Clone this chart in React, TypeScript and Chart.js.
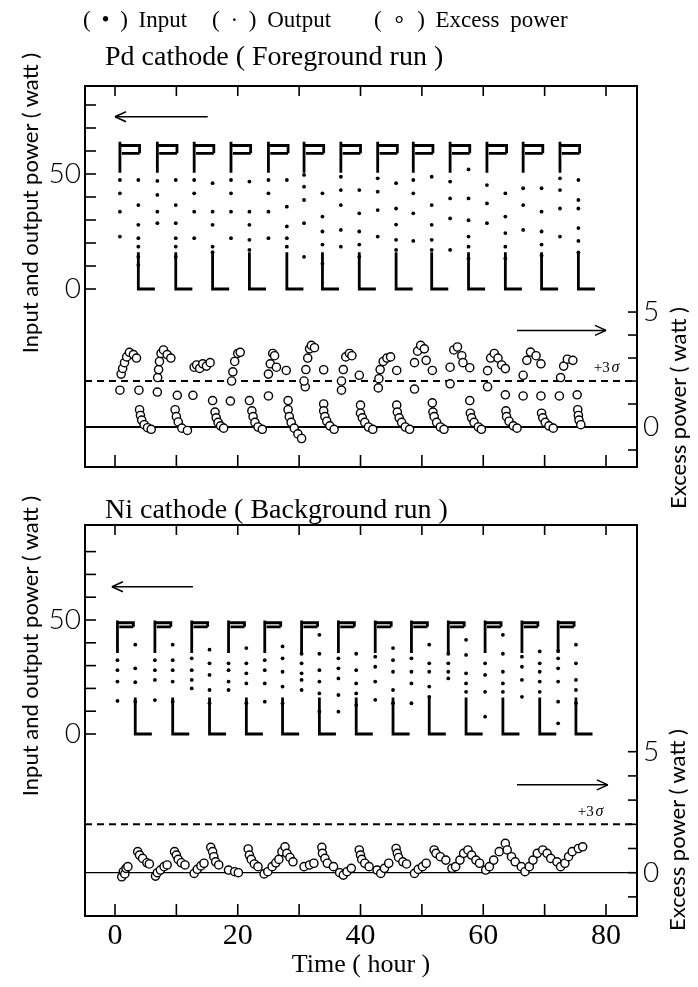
import React, { useEffect, useRef } from "react";
import { Chart, registerables } from "chart.js";

Chart.register(...registerables);

const SERIF = '"Liberation Serif", "Times New Roman", serif';
const SANS = 'Lato, "Open Sans", "DejaVu Sans", sans-serif';

// ---------------- shared axes ----------------
const timeRange = [-4.888, 85.05]; // hours
const timeTicks = [0, 10, 20, 30, 40, 50, 60, 70, 80];
const timeLabels = [0, 20, 40, 60, 80];
const powerTicks = [0, 10, 20, 30, 40, 50, 60, 70, 80];
const powerLabels = [0, 50];
const excessTicks = [-1, 0, 1, 2, 3, 4, 5];
const excessLabels = [0, 5];

// ---------------- Pd cathode (foreground run) ----------------
const pdPowerRange = [-77.39, 88.26];
const pdExcessRange = [-1.739, 14.83];
const pdCycleStart = [0.8, 6.9, 12.9, 18.9, 25.0, 30.8, 36.8, 42.8, 48.6, 54.6, 60.6, 66.5, 72.5];
const pdTiming = [3.2, 3.0, 5.7]; // hold end, output drop, rest end (hours after start)
const pdInputStart = [64, 50.5]; // W
const pdHold = [62.4, 59.0]; // input, output (W)
const pdOutputTail = [16, 0]; // W
const pdInputSteps = [
  [47.4, 41.6, 33.6, 22.8],
  [47.0, 40.9, 33.6, 28.6],
  [47.4, 41.6, 33.6, 22.1],
  [47.4, 41.6, 33.6, 22.1],
  [47.4, 41.6, 33.6, 22.1],
  [49.6, 44.5, 38.7, 28.6, 14.0],
  [48.8, 43.0, 36.5, 25.7, 18.4],
  [48.1, 42.3, 34.3, 22.8],
  [47.4, 41.6, 32.9, 20.9],
  [46.7, 39.4, 30.7, 17.0],
  [45.2, 37.2, 28.6],
  [43.8, 36.5, 25.7],
  [48.1, 43.0, 35.0, 22.8],
];
const pdOutputSteps = [
  [47.4, 36.5, 27.9, 22.1, 18.4, 14.0, 10.4],
  [47.4, 36.5, 28.6, 22.1, 18.4, 14.0],
  [46.0, 33.6, 27.9, 18.4, 16.0],
  [46.7, 33.6, 27.9, 21.4, 17.0],
  [47.4, 35.8, 27.2, 22.1, 18.4],
  [41.6, 31.5, 25.0, 19.3, 11.0],
  [43.0, 32.9, 25.0, 19.3, 14.0],
  [46.0, 35.0, 28.0, 21.4, 17.0],
  [48.8, 36.5, 27.9, 21.4, 17.0],
  [52.0, 39.4, 29.9, 22.8, 18.4, 13.3],
  [41.6, 31.5, 24.3, 18.4, 13.3],
  [43.8, 33.6, 25.0, 19.3, 14.6],
  [47.4, 38.7, 35.0, 26.5, 20.9, 15.9],
];
const pdExcessEarly = [
  [0.8, 1.6], [1.0, 2.3], [1.25, 2.55], [1.55, 2.8], [1.9, 3.05], [2.35, 3.25], [3.0, 3.15], [3.5, 3.0], [3.9, 1.6],
  [4.0, 0.75], [4.15, 0.5], [4.35, 0.3], [4.75, 0.1], [5.3, -0.03], [5.9, -0.1],
  [6.9, 1.52], [6.95, 2.15], [7.1, 2.5], [7.25, 2.85], [7.5, 3.2], [7.9, 3.35], [8.5, 3.15], [9.1, 3.0], [10.15, 1.38],
  [9.8, 0.75], [10.0, 0.45], [10.3, 0.22], [10.9, -0.05], [11.8, -0.15],
  [12.7, 1.38], [12.9, 2.6], [13.3, 2.7], [13.8, 2.55], [14.3, 2.75], [14.9, 2.65], [15.5, 2.8], [15.9, 1.15],
  [16.3, 0.65], [16.5, 0.4], [16.8, 0.2], [17.2, 0.05], [17.7, -0.05],
  [18.8, 1.13], [19.0, 2.0], [19.2, 2.4], [19.5, 2.85], [20.0, 3.2], [20.4, 3.25], [21.9, 1.15],
  [22.3, 0.7], [22.5, 0.45], [22.8, 0.2], [23.3, 0.0], [24.0, -0.1],
];
const pdExcessMid = [
  [25.0, 1.35], [25.0, 2.3], [25.3, 2.75], [25.7, 3.2], [26.0, 3.1], [26.3, 2.6], [27.9, 2.46], [28.2, 1.15],
  [28.2, 0.75], [28.4, 0.45], [28.7, 0.2], [29.2, -0.05], [29.8, -0.3], [30.4, -0.5],
  [31.0, 1.75], [30.8, 2.0], [31.1, 2.5], [31.4, 3.0], [31.7, 3.4], [32.0, 3.55], [32.5, 3.45], [34.0, 2.49], [34.0, 1.0],
  [34.0, 0.7], [34.2, 0.45], [34.5, 0.25], [35.0, 0.05], [35.7, -0.1],
  [36.9, 1.6], [36.9, 2.0], [37.2, 2.5], [37.6, 3.05], [38.2, 3.2], [38.6, 3.1], [39.8, 2.25], [40.0, 0.95],
  [40.0, 0.6], [40.3, 0.4], [40.7, 0.2], [41.3, 0.0], [42.0, -0.1],
  [42.9, 1.7], [43.0, 2.1], [43.2, 2.5], [43.7, 2.85], [44.3, 3.0], [44.9, 3.05], [45.9, 2.46], [45.9, 0.95],
  [46.0, 0.65], [46.3, 0.4], [46.7, 0.2], [47.3, 0.0], [48.0, -0.1],
];
const pdExcessLate = [
  [48.8, 1.65], [48.8, 2.8], [49.3, 3.3], [49.8, 3.55], [50.4, 3.4], [50.7, 2.9], [51.7, 2.46], [51.7, 1.05],
  [51.8, 0.65], [52.0, 0.45], [52.4, 0.2], [53.0, 0.0], [53.6, -0.1],
  [54.6, 1.88], [54.6, 2.6], [55.2, 3.35], [55.8, 3.48], [56.5, 3.1], [56.7, 2.8], [57.8, 2.58], [57.8, 1.15],
  [57.9, 0.6], [58.1, 0.4], [58.5, 0.2], [59.2, 0.0], [59.7, -0.1],
  [60.7, 1.75], [60.7, 2.45], [61.2, 3.0], [61.8, 3.2], [62.4, 3.0], [63.0, 2.7], [63.6, 2.54], [63.6, 1.4],
  [63.7, 0.7], [63.8, 0.45], [64.2, 0.25], [64.9, 0.05], [65.5, -0.05],
  [66.5, 1.35], [66.5, 2.25], [67.1, 2.9], [67.7, 3.26], [68.6, 3.1], [69.4, 2.75], [69.4, 1.35],
  [69.5, 0.6], [69.7, 0.4], [70.1, 0.2], [70.7, 0.05], [71.4, -0.05],
  [72.4, 1.35], [72.6, 2.15], [73.1, 2.65], [73.7, 2.95], [74.6, 2.9], [75.3, 1.4],
  [75.4, 0.75], [75.5, 0.5], [75.6, 0.3], [75.9, 0.1],
];
const pdSigma = 2.0;
const pdPowerArrow = [15.1, 0.0, 74.9]; // from (h), to (h), level (W)
const pdExcessArrow = [65.5, 80.0, 4.2];
const pdSigmaLabel = [78.0, 2.57];

// ---------------- Ni cathode (background run) ----------------
const niPowerRange = [-79.82, 91.67];
const niExcessRange = [-1.79, 14.37];
const niCycleStart = [0.4, 6.5, 12.5, 18.5, 24.4, 30.4, 36.4, 42.4, 48.3, 54.3, 60.3, 66.3, 72.2];
const niTiming = [2.6, 2.9, 5.6];
const niInputStart = [49.8, 35.5];
const niHold = [48.8, 47.0];
const niOutputTail = [16, 0];
const niInputSteps = [
  [32.4, 28.0, 23.0, 14.5],
  [32.4, 28.0, 23.7, 14.9],
  [33.2, 28.0, 23.7, 20.0],
  [31.0, 28.0, 23.0, 19.3],
  [32.4, 28.0, 22.2, 14.2],
  [35.2, 31.0, 26.6, 23.7, 19.3],
  [33.2, 28.8, 24.4, 17.1, 9.8],
  [33.9, 29.5, 23.0, 15.0],
  [33.2, 27.3, 22.2, 13.5],
  [35.2, 31.0, 27.3, 24.4],
  [31.0, 25.9, 18.5, 7.6],
  [33.9, 29.5, 23.7, 16.3],
  [36.5, 33.2, 28.8, 23.0, 14.2, 4.7],
];
const niOutputSteps = [
  [39.2, 28.8, 22.7, 14.2],
  [39.2, 32.4, 28.0, 23.0, 14.2],
  [37.0, 31.0, 25.9, 19.3, 13.5],
  [37.7, 31.0, 26.6, 22.2, 13.5],
  [38.4, 33.2, 27.3, 20.8, 13.5],
  [43.5, 35.2, 28.0, 23.0, 17.8, 9.8],
  [35.2, 28.0, 22.2, 17.8, 12.7],
  [37.7, 32.4, 27.3, 19.3, 13.5],
  [39.2, 31.0, 27.3, 20.8, 16.3],
  [41.3, 34.7, 26.6, 22.2, 18.5],
  [43.5, 35.2, 27.3, 22.2, 18.5],
  [36.2, 31.0, 27.3, 23.0, 18.5],
  [39.2, 31.0, 23.7, 19.3, 13.5],
];
const niExcessEarly = [
  [1.1, -0.17], [1.35, 0.04], [1.6, -0.05], [1.8, 0.18], [2.1, 0.25],
  [3.7, 0.87], [4.0, 0.73], [4.5, 0.59], [5.2, 0.41], [5.6, 0.36],
  [6.6, -0.14], [6.9, 0.0], [7.4, 0.11], [8.0, 0.25], [8.5, 0.32],
  [9.7, 0.87], [10.0, 0.73], [10.3, 0.55], [10.8, 0.41], [11.4, 0.32],
  [12.9, -0.03], [13.4, 0.14], [14.0, 0.28], [14.5, 0.39],
  [15.6, 1.05], [15.9, 0.87], [16.1, 0.66], [16.4, 0.45], [16.9, 0.32],
  [18.5, 0.11], [19.5, 0.04], [20.1, 0.0],
  [21.7, 0.98], [21.9, 0.73], [22.2, 0.55], [22.7, 0.36], [23.3, 0.25],
];
const niExcessMid = [
  [24.3, -0.05], [24.9, 0.04], [25.6, 0.25], [26.2, 0.41], [26.7, 0.55], [27.2, 0.87], [27.7, 1.07], [28.0, 0.8], [28.5, 0.63], [29.0, 0.45],
  [30.8, 0.25], [31.7, 0.32], [32.4, 0.39],
  [33.7, 1.05], [33.8, 0.8], [34.2, 0.59], [34.6, 0.39], [35.6, 0.25],
  [36.6, 0.0], [37.2, -0.1], [37.8, 0.04], [38.5, 0.18],
  [39.8, 0.94], [40.0, 0.73], [40.2, 0.55], [40.7, 0.39], [41.4, 0.25],
  [42.7, 0.11], [43.3, -0.03], [43.9, 0.18], [44.6, 0.39],
  [45.8, 1.0], [46.0, 0.8], [46.2, 0.63], [46.9, 0.45], [47.5, 0.36],
];
const niExcessLate = [
  [48.8, -0.03], [49.4, 0.14], [50.1, 0.25], [50.7, 0.39],
  [52.0, 0.94], [52.3, 0.8], [53.0, 0.66], [53.9, 0.52],
  [54.9, 0.18], [55.5, 0.25], [56.2, 0.52], [56.8, 0.8], [57.5, 0.94], [58.1, 0.73], [58.8, 0.52], [59.4, 0.39],
  [60.4, 0.11], [61.0, 0.25], [61.7, 0.52], [62.6, 0.87], [63.6, 1.21], [63.9, 0.94], [64.6, 0.66], [65.2, 0.45],
  [66.2, 0.25], [66.8, 0.04], [67.5, 0.25], [68.1, 0.52], [68.8, 0.8], [69.7, 0.94], [70.4, 0.8], [71.0, 0.59],
  [72.0, 0.45], [72.6, 0.25], [73.3, 0.39], [73.9, 0.66], [74.5, 0.87], [75.5, 1.0], [76.2, 1.07],
];
const niSigma = 2.0;
const niPowerArrow = [12.7, -0.5, 64.6];
const niExcessArrow = [65.5, 80.3, 3.63];
const niSigmaLabel = [75.4, 2.5];

// ---------------- builders ----------------
type Pt = { x: number; y: number | null };

function buildPower(starts: number[], timing: number[], inputStart: number[], hold: number[], tail: number[], inSteps: number[][], outSteps: number[][]) {
  const [holdEnd, drop, rest] = timing;
  const inLine: Pt[] = [];
  const outLine: Pt[] = [];
  const inDots: Pt[] = [];
  const outDots: Pt[] = [];
  starts.forEach((t0, i) => {
    inLine.push(
      { x: t0, y: inputStart[0] }, { x: t0, y: inputStart[1] }, { x: t0, y: null },
      { x: t0, y: hold[0] }, { x: t0 + holdEnd, y: hold[0] }, { x: t0 + holdEnd, y: hold[1] }, { x: t0 + holdEnd, y: null }
    );
    outLine.push(
      { x: t0 + 0.3, y: hold[1] }, { x: t0 + holdEnd, y: hold[1] }, { x: t0 + holdEnd, y: null },
      { x: t0 + drop, y: tail[0] }, { x: t0 + drop, y: tail[1] }, { x: t0 + rest, y: tail[1] }, { x: t0 + rest, y: null }
    );
    inSteps[i].forEach((v) => inDots.push({ x: t0, y: v }));
    outSteps[i].forEach((v) => outDots.push({ x: t0 + drop, y: v }));
  });
  return { inLine, outLine, inDots, outDots };
}

const toPts = (arrs: number[][][]) => arrs.flat().map(([x, y]) => ({ x, y }));

function makeDecor(p: any) {
  const seg = (ctx: any, x1: number, y1: number, x2: number, y2: number) => {
    ctx.beginPath();
    ctx.moveTo(x1, y1);
    ctx.lineTo(x2, y2);
    ctx.stroke();
  };
  return {
    id: "panelDecor",
    beforeDatasetsDraw(chart: any) {
      const { ctx, chartArea: a, scales } = chart;
      const yR = scales.yR;
      ctx.save();
      ctx.strokeStyle = "#000";
      ctx.lineWidth = p.zeroWidth;
      const y0 = yR.getPixelForValue(0);
      seg(ctx, a.left, y0, a.right, y0);
      ctx.setLineDash([7, 5]);
      ctx.lineWidth = 2;
      const ys = yR.getPixelForValue(p.sigma);
      seg(ctx, a.left, ys, a.right, ys);
      ctx.restore();
    },
    afterDatasetsDraw(chart: any) {
      const { ctx, chartArea: a, scales } = chart;
      const { x, yL, yR } = scales;
      ctx.save();
      ctx.strokeStyle = "#000";
      ctx.fillStyle = "#000";
      ctx.lineWidth = 2;
      ctx.strokeRect(a.left, a.top, a.right - a.left, a.bottom - a.top);
      ctx.lineWidth = 1.6;
      timeTicks.forEach((v) => {
        const px = x.getPixelForValue(v);
        seg(ctx, px, a.top, px, a.top + 10);
        seg(ctx, px, a.bottom, px, a.bottom - 12);
      });
      powerTicks.forEach((v) => {
        const py = yL.getPixelForValue(v);
        seg(ctx, a.left, py, a.left + 11, py);
      });
      excessTicks.forEach((v) => {
        const py = yR.getPixelForValue(v);
        seg(ctx, a.right - 9, py, a.right, py);
      });
      // time tick labels
      if (p.showTime) {
        ctx.font = `30px ${SERIF}`;
        ctx.textAlign = "center";
        ctx.textBaseline = "middle";
        timeLabels.forEach((v) => {
          ctx.fillText(String(v), x.getPixelForValue(v), a.bottom + 20);
        });
      }
      // arrows
      ctx.lineWidth = 1.5;
      p.arrows.forEach((ar: any) => {
        const sc = scales[ar.axis];
        const x1 = x.getPixelForValue(ar.v[0]);
        const x2 = x.getPixelForValue(ar.v[1]);
        const py = sc.getPixelForValue(ar.v[2]);
        seg(ctx, x1, py, x2, py);
        const d = x2 > x1 ? -1 : 1;
        seg(ctx, x2, py, x2 + d * 11, py - 5);
        seg(ctx, x2, py, x2 + d * 11, py + 5);
      });
      // +3 sigma label
      const lx = x.getPixelForValue(p.sigmaLabel[0]);
      const ly = yR.getPixelForValue(p.sigmaLabel[1]);
      ctx.textBaseline = "middle";
      ctx.textAlign = "left";
      ctx.font = `15px ${SERIF}`;
      ctx.fillText("+3", lx, ly);
      const w = ctx.measureText("+3 ").width;
      ctx.font = `italic 16px ${SERIF}`;
      ctx.fillText("σ", lx + w - 2, ly);
      ctx.restore();
    },
  };
}

function buildConfig(p: any, height: number) {
  const pw = buildPower(p.starts, p.timing, p.inputStart, p.hold, p.tail, p.inSteps, p.outSteps);
  const lineDs = (data: Pt[]) => ({
    data,
    showLine: true,
    borderColor: "#000",
    borderWidth: 2.8,
    pointRadius: 0,
    spanGaps: false,
    yAxisID: "yL",
    order: 2,
  });
  const dotDs = (data: Pt[]) => ({
    data,
    showLine: false,
    pointRadius: 1.9,
    pointBackgroundColor: "#000",
    pointBorderWidth: 0,
    yAxisID: "yL",
    order: 2,
  });
  const tickLabel = (labels: number[]) => (v: any) => (labels.includes(Number(v)) ? String(v) : "");
  return {
    type: "scatter",
    data: {
      datasets: [
        {
          label: "Excess power",
          data: p.excess,
          showLine: false,
          pointRadius: 4.1,
          pointBorderWidth: 1.4,
          pointBorderColor: "#000",
          pointBackgroundColor: "#fff",
          yAxisID: "yR",
          order: 0,
        },
        { label: "Input", ...lineDs(pw.inLine) },
        { label: "Output", ...lineDs(pw.outLine) },
        { label: "Input", ...dotDs(pw.inDots) },
        { label: "Output", ...dotDs(pw.outDots) },
      ],
    },
    options: {
      responsive: false,
      animation: false,
      events: [],
      layout: { padding: { top: p.padTop, bottom: 0, left: 0, right: 0 } },
      plugins: { legend: { display: false }, tooltip: { enabled: false } },
      scales: {
        x: {
          type: "linear",
          min: timeRange[0],
          max: timeRange[1],
          display: true,
          grid: { display: false, drawTicks: false },
          border: { display: false },
          ticks: { display: false, stepSize: 10, includeBounds: false },
          title: {
            display: p.showTime,
            text: "Time ( hour )",
            color: "#000",
            font: { family: SERIF, size: 26 },
            padding: { top: 0, bottom: 6 },
          },
          afterFit: (s: any) => {
            s.height = height - p.areaBottom;
          },
        },
        yL: {
          type: "linear",
          position: "left",
          min: p.powerRange[0],
          max: p.powerRange[1],
          grid: { display: false, drawTicks: false },
          border: { display: false },
          ticks: {
            stepSize: 10,
            includeBounds: false,
            autoSkip: false,
            padding: 4,
            color: "#000",
            font: { family: SANS, size: 28, weight: 300 },
            callback: tickLabel(powerLabels),
          },
          afterFit: (s: any) => {
            s.width = 85;
          },
        },
        yR: {
          type: "linear",
          position: "right",
          min: p.excessRange[0],
          max: p.excessRange[1],
          grid: { display: false, drawTicks: false },
          border: { display: false },
          ticks: {
            stepSize: 1,
            includeBounds: false,
            autoSkip: false,
            padding: 6,
            color: "#000",
            font: { family: SANS, size: 28, weight: 300 },
            callback: tickLabel(excessLabels),
          },
          afterFit: (s: any) => {
            s.width = 61;
          },
        },
      },
    },
    plugins: [makeDecor(p)],
  };
}

const pdPanel = {
  starts: pdCycleStart,
  timing: pdTiming,
  inputStart: pdInputStart,
  hold: pdHold,
  tail: pdOutputTail,
  inSteps: pdInputSteps,
  outSteps: pdOutputSteps,
  excess: toPts([pdExcessEarly, pdExcessMid, pdExcessLate]),
  powerRange: pdPowerRange,
  excessRange: pdExcessRange,
  sigma: pdSigma,
  sigmaLabel: pdSigmaLabel,
  zeroWidth: 2,
  arrows: [
    { v: pdPowerArrow, axis: "yL" },
    { v: pdExcessArrow, axis: "yR" },
  ],
  padTop: 86,
  areaBottom: 467,
  showTime: false,
};

const niPanel = {
  starts: niCycleStart,
  timing: niTiming,
  inputStart: niInputStart,
  hold: niHold,
  tail: niOutputTail,
  inSteps: niInputSteps,
  outSteps: niOutputSteps,
  excess: toPts([niExcessEarly, niExcessMid, niExcessLate]),
  powerRange: niPowerRange,
  excessRange: niExcessRange,
  sigma: niSigma,
  sigmaLabel: niSigmaLabel,
  zeroWidth: 1.2,
  arrows: [
    { v: niPowerArrow, axis: "yL" },
    { v: niExcessArrow, axis: "yR" },
  ],
  padTop: 25,
  areaBottom: 416,
  showTime: true,
};

function Panel({ cfg, top, height }: { cfg: any; top: number; height: number }) {
  const ref = useRef<HTMLCanvasElement>(null);
  useEffect(() => {
    const chart = new Chart(ref.current as HTMLCanvasElement, buildConfig(cfg, height) as any);
    return () => chart.destroy();
  }, []);
  return (
    <canvas
      ref={ref}
      width={698}
      height={height}
      style={{ position: "absolute", left: 0, top, width: 698, height }}
    />
  );
}

const rot = (text: string, cx: number, cy: number, family: string, size: number) => (
  <div
    style={{
      position: "absolute",
      left: cx,
      top: cy,
      transform: "translate(-50%, -50%) rotate(-90deg)",
      whiteSpace: "nowrap",
      fontFamily: family,
      fontSize: size,
      lineHeight: `${size}px`,
    }}
  >
    {text}
  </div>
);

const abs = (text: string, left: number, top: number, family: string, size: number, wordSpacing = 0) => (
  <div
    style={{
      position: "absolute",
      left,
      top,
      whiteSpace: "pre",
      fontFamily: family,
      fontSize: size,
      lineHeight: `${size}px`,
      wordSpacing,
    }}
  >
    {text}
  </div>
);

export default function App() {
  return (
    <div
      style={{
        position: "absolute",
        left: 0,
        top: 0,
        width: 698,
        height: 987,
        background: "#fff",
        color: "#000",
        overflow: "hidden",
      }}
    >
      <Panel cfg={pdPanel} top={0} height={500} />
      <Panel cfg={niPanel} top={500} height={487} />
      {abs("( • ) Input", 83, 8, SERIF, 23, 5)}
      {abs("( · ) Output", 212, 8, SERIF, 23, 5)}
      {abs("( ∘ ) Excess power", 374, 8, SERIF, 23, 5)}
      {abs("Pd cathode ( Foreground run )", 105, 42, SERIF, 28)}
      {abs("Ni cathode ( Background run )", 105, 495, SERIF, 28)}
      {rot("Input and output power ( watt )", 30, 203, SANS, 22)}
      {rot("Input and output power ( watt )", 30, 646, SANS, 22)}
      {rot("Excess power ( watt )", 678, 408, SANS, 22)}
      {rot("Excess power ( watt )", 677, 830, SANS, 22)}
    </div>
  );
}
